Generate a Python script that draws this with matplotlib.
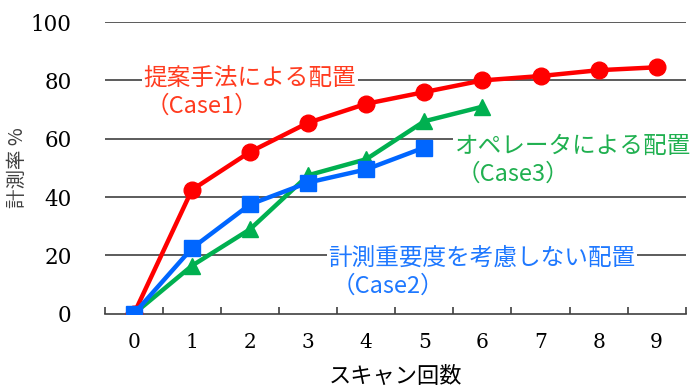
import numpy as np
import matplotlib.pyplot as plt

plt.rcParams['font.family'] = ['Noto Sans CJK JP', 'DejaVu Sans']

# === DATOS ===
scans = np.arange(10)
case1 = [0, 42.5, 55.5, 65.5, 72, 76, 80, 81.5, 83.5, 84.5]   # 提案手法
case2 = [0, 22.5, 37.5, 45, 49.5, 57]                         # 計測重要度を考慮しない
case3 = [0, 16.5, 29, 47.5, 53, 66, 71]                       # オペレータ
yticks = [0, 20, 40, 60, 80, 100]

RED = '#ff0000'
BLUE = '#0066ff'
GREEN = '#00b050'

fig = plt.figure(figsize=(6.99, 3.87), dpi=100)
ax = fig.add_axes([0.150, 0.189, 0.831, 0.754])

for y in yticks[1:]:
    ax.axhline(y, color='#404040', lw=1.2, zorder=0)

ax.plot(scans[:len(case1)], case1, color=RED, lw=3.2, marker='o', ms=12, zorder=3)
ax.plot(scans[:len(case3)], case3, color=GREEN, lw=3.2, marker='^', ms=12, zorder=4)
ax.plot(scans[:len(case2)], case2, color=BLUE, lw=3.2, marker='s', ms=11, zorder=5)

ax.set_xlim(-0.5, 9.5)
ax.set_ylim(0, 100)
ax.set_yticks(yticks)
ax.set_xticks(scans)
ax.set_xticks(np.arange(-0.5, 10, 1), minor=True)
ax.tick_params(axis='x', which='major', length=0, pad=14, labelsize=14.5)
ax.tick_params(axis='x', which='minor', length=5, direction='in', color='#404040', width=1.2)
ax.tick_params(axis='y', length=0, pad=24, labelsize=15.5)
for lab in ax.get_xticklabels() + ax.get_yticklabels():
    lab.set_family('DejaVu Serif')

for s in ['top', 'right', 'left']:
    ax.spines[s].set_visible(False)
ax.spines['bottom'].set_color('#404040')
ax.spines['bottom'].set_linewidth(1.2)

ax.set_xlabel('スキャン回数', fontsize=16, labelpad=9)
ax.set_ylabel('計測率 %', fontsize=14, labelpad=2, color='#404040')

bbox = dict(facecolor='white', edgecolor='none', pad=1)
ax.text(0.17, 80.5, '提案手法による配置', color='#ff3b1f', fontsize=17, va='center', bbox=bbox)
ax.text(0.2, 71, '（Case1）', color='#ff3b1f', fontsize=17, va='center')
ax.text(5.52, 57.5, 'オペレータによる配置', color='#20b050', fontsize=17, va='center', bbox=bbox)
ax.text(5.55, 48, '（Case3）', color='#20b050', fontsize=17, va='center')
ax.text(3.35, 19, '計測重要度を考慮しない配置', color='#1e78ff', fontsize=17, va='center', bbox=bbox)
ax.text(3.4, 9.5, '（Case2）', color='#1e78ff', fontsize=17, va='center')

fig.savefig('out.png', dpi=100)
